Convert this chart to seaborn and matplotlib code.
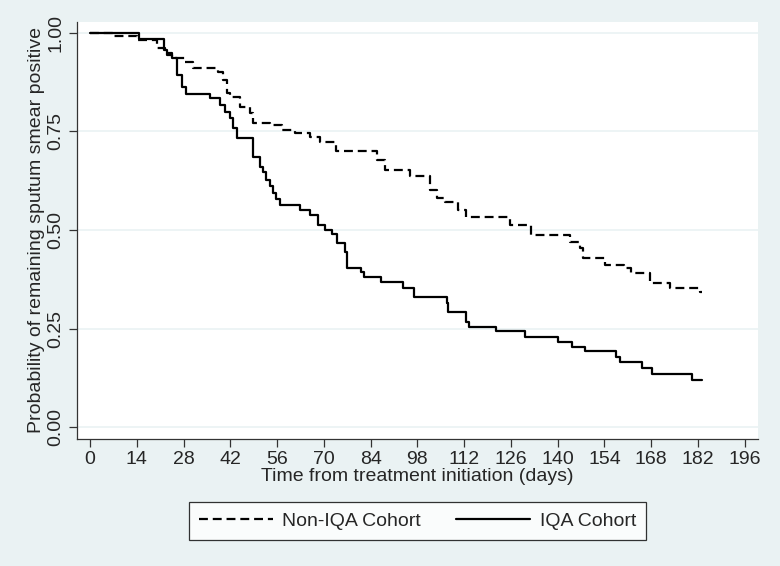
import matplotlib
matplotlib.use("Agg")
import matplotlib.pyplot as plt
import seaborn as sns
import pandas as pd

# Kaplan-Meier step estimates (day, survival after step)
iqa_days = [0, 14.7, 22.2, 23.1, 24.5, 26.0, 27.5, 28.7, 36.0, 39.0, 40.4, 41.9, 42.8, 44.0,
            48.8, 50.9, 51.8, 52.7, 53.9, 54.8, 55.7, 56.9, 62.9, 65.9, 68.3, 70.4, 72.5,
            74.0, 76.3, 76.9, 81.1, 82.0, 87.1, 93.7, 97.0, 106.9, 107.2, 112.6, 113.5,
            121.6, 130.2, 140.1, 144.3, 148.2, 157.5, 158.7, 165.3, 168.3, 180.2, 183.2]
iqa_surv = [1.0, 0.985, 0.957, 0.944, 0.937, 0.893, 0.863, 0.845, 0.835, 0.817, 0.800, 0.784,
            0.760, 0.733, 0.685, 0.660, 0.647, 0.627, 0.612, 0.594, 0.579, 0.563, 0.551, 0.538,
            0.513, 0.500, 0.490, 0.467, 0.444, 0.403, 0.393, 0.380, 0.368, 0.353, 0.330, 0.315,
            0.292, 0.266, 0.254, 0.244, 0.228, 0.216, 0.203, 0.193, 0.178, 0.165, 0.150, 0.134,
            0.119, 0.119]

non_days = [0, 7.0, 14.1, 20.1, 22.5, 24.6, 28.4, 30.8, 38.3, 39.8, 41.0, 41.9, 44.9, 47.9,
            48.8, 53.9, 57.5, 61.4, 65.9, 68.9, 73.7, 85.9, 88.3, 95.8, 101.8, 103.9, 106.3,
            110.2, 112.6, 125.7, 132.0, 143.7, 146.7, 147.6, 154.2, 159.9, 162.0, 167.7,
            173.7, 182.6, 183.2]
non_surv = [1.0, 0.992, 0.982, 0.962, 0.950, 0.937, 0.927, 0.911, 0.900, 0.880, 0.848, 0.838,
            0.812, 0.797, 0.772, 0.766, 0.754, 0.746, 0.736, 0.723, 0.700, 0.678, 0.652, 0.637,
            0.602, 0.581, 0.571, 0.551, 0.532, 0.513, 0.487, 0.470, 0.454, 0.429, 0.411, 0.403,
            0.390, 0.365, 0.353, 0.343, 0.343]

x_ticks = list(range(0, 197, 14))
y_ticks = [0, 0.25, 0.5, 0.75, 1.0]

df = pd.concat([
    pd.DataFrame({"day": non_days, "surv": non_surv, "cohort": "Non-IQA Cohort"}),
    pd.DataFrame({"day": iqa_days, "surv": iqa_surv, "cohort": "IQA Cohort"}),
])

bg = "#EAF2F3"
sns.set_style("white")
plt.rcParams["font.family"] = ["Liberation Sans Narrow", "Liberation Sans", "DejaVu Sans"]

fig = plt.figure(figsize=(7.8, 5.66), dpi=100, facecolor=bg)
ax = fig.add_axes([0.0987, 0.2244, 0.8733, 0.737])
ax.set_facecolor("white")

sns.lineplot(data=df, x="day", y="surv", style="cohort", color="black",
             dashes={"Non-IQA Cohort": (4, 2.2), "IQA Cohort": ""},
             estimator=None, sort=False, drawstyle="steps-post", lw=1.6,
             legend=False, ax=ax)

ax.set_xlim(-3.9, 200)
ax.set_ylim(-0.03, 1.028)
ax.set_xticks(x_ticks)
ax.set_yticks(y_ticks)
ax.set_yticklabels(["%.2f" % v for v in y_ticks], rotation=90, va="center")
for y in y_ticks:
    ax.axhline(y, color=bg, lw=1.2, zorder=0)

for s in ["top", "right"]:
    ax.spines[s].set_visible(False)
for s in ["left", "bottom"]:
    ax.spines[s].set_color("#333333")
    ax.spines[s].set_linewidth(0.9)
ax.tick_params(axis="both", direction="out", length=6, width=0.9, color="#333333",
               labelsize=14, pad=3, left=True, bottom=True)

ax.set_xlabel("Time from treatment initiation (days)", fontsize=14, labelpad=0)
ax.set_ylabel("Probability of remaining sputum smear positive", fontsize=14, labelpad=2)

lines = ax.get_lines()[:2]
leg = fig.legend(lines, ["Non-IQA Cohort", "IQA Cohort"], loc="center",
                 bbox_to_anchor=(0.535, 0.0795), ncol=2, fontsize=14, frameon=True,
                 fancybox=False, edgecolor="black", handlelength=3.8, handletextpad=0.5,
                 columnspacing=1.8, borderpad=0.5)
leg.get_frame().set_linewidth(0.9)

fig.savefig("out.png", dpi=100, facecolor=bg)
